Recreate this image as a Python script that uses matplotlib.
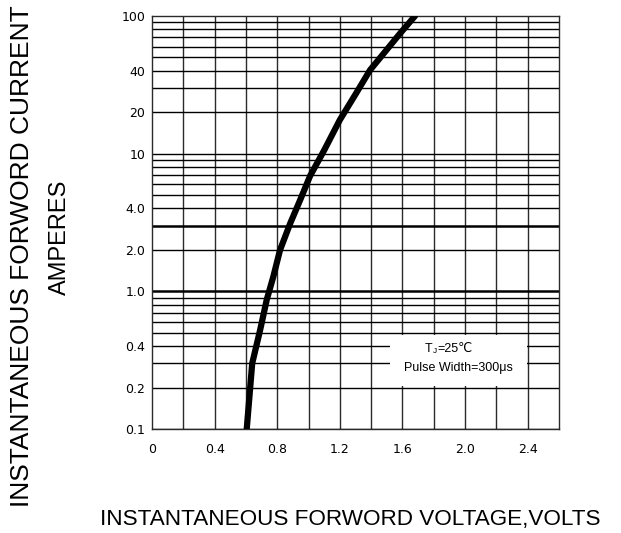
import numpy as np
import matplotlib.pyplot as plt
from matplotlib.patches import Rectangle

plt.rcParams['font.family'] = ['Liberation Sans', 'DejaVu Sans']

# forward characteristic
volts = [0.605, 0.640, 0.690, 0.733, 0.775, 0.818, 0.882, 0.946, 1.01, 1.10, 1.20, 1.30, 1.393, 1.50, 1.585, 1.68]
amps = [0.10, 0.30, 0.52, 0.87, 1.28, 2.0, 3.1, 4.6, 6.9, 10.6, 17.6, 27.0, 40.5, 57.0, 74.8, 100.0]

x_ticks = [0, 0.4, 0.8, 1.2, 1.6, 2.0, 2.4]
x_labels = ['0', '0.4', '0.8', '1.2', '1.6', '2.0', '2.4']
y_ticks = [100, 40, 20, 10, 4.0, 2.0, 1.0, 0.4, 0.2, 0.1]
y_labels = ['100', '40', '20', '10', '4.0', '2.0', '1.0', '0.4', '0.2', '0.1']

fig = plt.figure(figsize=(6.21, 5.33), dpi=100)
ax = fig.add_axes([0.2448, 0.1951, 0.6554, 0.7749])
ax.set_yscale('log')
ax.set_xlim(0, 2.6)
ax.set_ylim(0.1, 100)

# grid: verticals every 0.2, horizontals on every log step
for xv in np.arange(0.2, 2.5, 0.2):
    ax.axvline(xv, color='#2a2a2a', lw=1.0, zorder=1)
for dec in [0.1, 1, 10]:
    for m in range(1, 10):
        yv = dec * m
        lw = 1.8 if dec == 1 and m in (1, 3) else 1.0
        ax.axhline(yv, color='black', lw=lw, zorder=1)

ax.plot(volts, amps, color='black', lw=4.5, solid_capstyle='round',
        solid_joinstyle='round', zorder=4)

# condition box
ax.add_patch(Rectangle((1.52, 0.205), 0.875, 0.482 - 0.205, facecolor='white',
                       edgecolor='none', zorder=3))
t1 = ax.text(1.745, 0.36, 'T', fontsize=9, ha='left', va='baseline', zorder=5)
t2 = ax.annotate('J', xy=(1, 0), xycoords=t1, fontsize=6, ha='left', va='bottom', zorder=5)
ax.annotate('=25℃', xy=(1, 0), xycoords=t2, fontsize=9, ha='left', va='bottom', zorder=5)
ax.text(1.955, 0.262, 'Pulse Width=300μs', fontsize=9, ha='center', va='baseline', zorder=5)

ax.set_xticks(x_ticks)
ax.set_xticklabels(x_labels)
ax.set_yticks(y_ticks)
ax.set_yticklabels(y_labels)
ax.minorticks_off()
ax.tick_params(length=0, labelsize=9)
ax.tick_params(axis='x', pad=10)
ax.tick_params(axis='y', pad=5)
for lab in ax.get_xticklabels() + ax.get_yticklabels():
    lab.set_family('DejaVu Sans')
for s in ax.spines.values():
    s.set_linewidth(1.0)
    s.set_color('#2a2a2a')

fig.text(0.036, 0.52, 'INSTANTANEOUS FORWORD CURRENT', rotation=90, fontsize=19,
         ha='center', va='center')
fig.text(0.097, 0.555, 'AMPERES', rotation=90, fontsize=17, ha='center', va='center')
fig.text(0.564, 0.026, 'INSTANTANEOUS FORWORD VOLTAGE,VOLTS', fontsize=16.2,
         ha='center', va='center')

fig.savefig('out.png', dpi=100)
